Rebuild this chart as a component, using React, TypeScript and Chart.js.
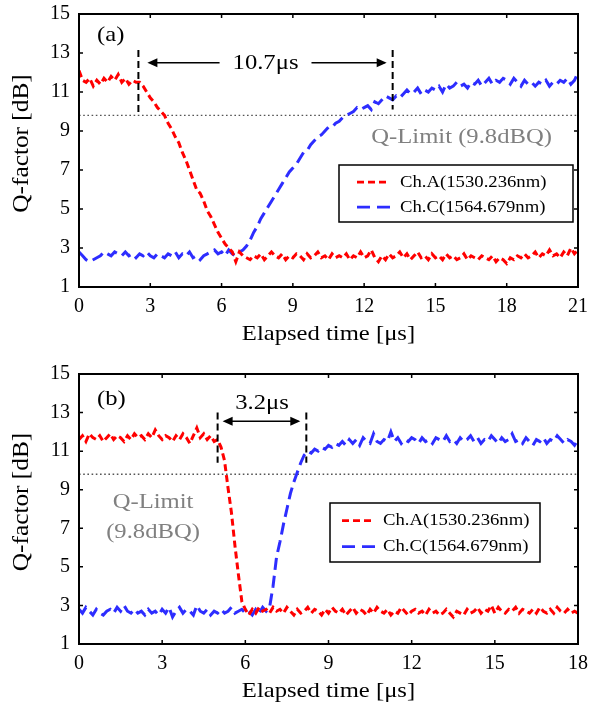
import React, { useEffect, useRef, useState } from "react";
import { Chart, registerables } from "chart.js";
Chart.register(...registerables);

const FONT = "'Liberation Serif', 'Times New Roman', Times, serif";
const RED = "rgb(255,0,0)";
const BLUE = "rgb(45,45,255)";
const GREY = "#808080";

// ---------- data ----------
const yTicks = [1, 3, 5, 7, 9, 11, 13, 15];
const qLimit = 9.8;
const legendLabels = ["Ch.A(1530.236nm)", "Ch.C(1564.679nm)"];

// panel (a): samples evenly spaced from 0 to 21 us
const tEndA = 21;
const xTicksA = [0, 3, 6, 9, 12, 15, 18, 21];
const chA_a = [
  12.1, 11.6, 11.5, 11.7, 11.3, 11.6, 11.4, 11.7, 11.5, 11.8, 11.6, 11.9, 11.5, 11.7, 11.4, 11.6, 11.5, 11.5, 11.3, 11.0,
  10.7, 10.5, 10.2, 10.0, 9.8, 9.4, 9.1, 8.7, 8.4, 7.9, 7.5, 7.0, 6.5, 6.0, 5.8, 5.4, 4.9, 4.6, 4.2, 3.8,
  3.5, 3.2, 3.0, 2.8, 2.3, 2.8, 2.6, 2.5, 2.4, 2.6, 2.5, 2.7, 2.4, 2.6, 2.8, 2.6, 2.5, 2.7, 2.4, 2.6,
  2.5, 2.7, 2.6, 2.4, 2.7, 2.5, 2.6, 2.8, 2.5, 2.6, 2.4, 2.7, 2.5, 2.6, 2.5, 2.7, 2.4, 2.6, 2.5, 2.8,
  2.5, 2.6, 2.9, 2.5, 2.3, 2.6, 2.4, 2.7, 2.5, 2.6, 2.8, 2.5, 2.7, 2.4, 2.6, 2.8, 2.5, 2.6, 2.4, 2.7,
  2.5, 2.6, 2.4, 2.7, 2.5, 2.6, 2.4, 2.5, 2.7, 2.4, 2.6, 2.5, 2.4, 2.6, 2.5, 2.4, 2.6, 2.3, 2.5, 2.4,
  2.2, 2.5, 2.4, 2.6, 2.5, 2.7, 2.5, 2.6, 2.8, 2.5, 2.7, 2.6, 2.9, 2.6, 2.7, 2.5, 2.8, 2.6, 3.0, 2.7,
  2.9,
];
const chC_a = [
  2.8, 2.6, 2.4, 2.3, 2.4, 2.5, 2.6, 2.8, 2.7, 2.6, 2.8, 2.7, 2.6, 2.8, 2.6, 2.7, 2.5, 2.7, 2.6, 2.8,
  2.6, 2.5, 2.7, 2.6, 2.5, 2.7, 2.6, 2.8, 2.5, 2.7, 2.6, 2.8, 2.5, 2.6, 2.4, 2.6, 2.7, 2.8, 2.9, 2.7,
  2.8, 2.6, 2.9, 2.7, 2.6, 2.8, 2.9, 3.1, 3.4, 3.8, 4.1, 4.5, 4.8, 5.1, 5.4, 5.7, 6.0, 6.3, 6.6, 6.9,
  7.1, 7.3, 7.6, 7.9, 8.0, 8.3, 8.5, 8.7, 8.8, 9.0, 9.2, 9.2, 9.4, 9.5, 9.7, 9.8, 9.9, 10.0, 10.2, 10.1,
  10.2, 10.3, 10.1, 10.5, 10.4, 10.6, 10.8, 10.7, 10.6, 10.8, 10.7, 10.9, 11.1, 10.9, 11.0, 11.2, 10.9, 11.1, 11.0, 11.2,
  11.1, 11.3, 11.0, 11.4, 11.2, 11.3, 11.5, 11.3, 11.4, 11.2, 11.5, 11.4, 11.6, 11.3, 11.5, 11.7, 11.4, 11.6, 11.5, 11.7,
  11.6, 11.4, 11.7, 11.5, 11.3, 11.6, 11.4, 11.5, 11.3, 11.5, 11.4, 11.6, 11.3, 11.5, 11.4, 11.6, 11.5, 11.7, 11.4, 11.6,
  12.0,
];
const markersA = [2.5, 13.2];
const markerTopA = [13.15, 13.15];
const markerBottomA = [9.8, 10.1];
const spanLabelA = "10.7\u03bcs";

// panel (b): samples evenly spaced from 0 to 18 us
const tEndB = 18;
const xTicksB = [0, 3, 6, 9, 12, 15, 18];
const chA_b = [
  11.6, 11.8, 11.5, 11.9, 11.7, 11.6, 11.8, 11.5, 11.7, 11.9, 11.6, 11.8, 11.7, 11.5, 11.8, 11.6, 11.9, 11.7, 11.8, 11.6,
  11.9, 11.7, 12.1, 11.8, 11.6, 11.8, 11.7, 11.5, 11.8, 11.6, 11.9, 11.7, 11.4, 11.8, 12.2, 11.7, 11.9, 11.6, 11.8, 11.5,
  11.6, 11.2, 10.5, 9.1, 7.8, 6.1, 4.6, 3.2, 2.8, 2.5, 2.8, 2.6, 2.9, 2.7, 2.8, 2.6, 2.9, 2.7, 2.8, 2.6,
  2.9, 2.7, 2.5, 2.8, 2.6, 2.7, 2.9, 2.6, 2.8, 2.7, 2.5, 2.8, 2.6, 2.9, 2.7, 2.6, 2.8, 2.5, 2.7, 2.9,
  2.6, 2.8, 2.7, 2.5, 2.8, 2.6, 2.9, 2.7, 2.6, 2.8, 2.5, 2.7, 2.6, 2.9, 2.7, 2.5, 2.7, 2.8, 2.6, 2.7,
  2.5, 2.8, 2.6, 2.7, 2.5, 2.6, 2.8, 2.6, 2.4, 2.7, 2.6, 2.5, 2.8, 2.6, 2.7, 2.9, 2.6, 2.8, 2.7, 3.0,
  2.6, 2.9, 2.7, 2.6, 2.8, 2.7, 2.9, 2.6, 2.8, 2.7, 2.6, 2.8, 2.6, 2.9, 2.7, 2.6, 2.8, 2.6, 2.9, 2.7,
  2.6, 2.8, 2.6, 2.7, 2.6,
];
const chC_b = [
  2.8, 2.6, 2.9, 2.7, 2.5, 2.8, 2.6, 2.5, 2.7, 2.8, 2.6, 2.9, 2.7, 3.0, 2.7, 2.6, 2.8, 2.6, 2.7, 2.5,
  2.8, 2.6, 2.7, 2.5, 2.8, 2.6, 2.9, 2.4, 2.7, 2.9, 2.6, 2.8, 2.7, 2.5, 3.0, 2.7, 2.6, 2.8, 2.5, 2.7,
  2.6, 2.8, 2.6, 2.7, 2.9, 2.6, 2.7, 2.8, 2.6, 2.7, 2.5, 2.8, 2.6, 2.9, 2.7, 2.9, 4.0, 5.5, 6.3, 7.2,
  8.0, 8.8, 9.4, 9.9, 10.4, 10.8, 11.0, 10.9, 11.1, 11.0, 11.2, 11.1, 11.3, 11.2, 11.4, 11.3, 11.5, 11.3, 11.6, 11.4,
  11.6, 11.3, 11.7, 11.5, 11.4, 11.9, 11.5, 11.4, 11.6, 11.5, 12.0, 11.5, 11.7, 11.4, 11.6, 11.5, 11.7, 11.6, 11.4, 11.7,
  11.5, 11.6, 11.4, 11.7, 11.6, 11.5, 11.8, 11.5, 11.6, 11.4, 11.7, 11.5, 11.6, 11.8, 11.5, 11.7, 11.4, 11.6, 11.5, 11.8,
  11.6, 11.4, 11.7, 11.5, 11.6, 11.9, 11.5, 11.6, 11.4, 11.7, 11.5, 11.3, 11.6, 11.5, 11.7, 11.4, 11.6, 11.5, 11.8, 11.6,
  11.4, 11.6, 11.5, 11.3, 11.6,
];
const markersB = [5.0, 8.2];
const markerTopB = [13.0, 13.0];
const markerBottomB = [10.4, 10.4];
const spanLabelB = "3.2\u03bcs";

// ---------- drawing helpers ----------
function drawText(
  ctx: CanvasRenderingContext2D,
  text: string,
  x: number,
  y: number,
  size: number,
  color: string,
  align: "left" | "center" | "right" = "center",
  sx = 1.12
) {
  ctx.save();
  ctx.font = `${size}px ${FONT}`;
  ctx.fillStyle = color;
  ctx.textBaseline = "middle";
  ctx.textAlign = "left";
  const w = ctx.measureText(text).width * sx;
  const left = align === "center" ? x - w / 2 : align === "right" ? x - w : x;
  ctx.translate(left, y);
  ctx.scale(sx, 1);
  ctx.fillText(text, 0, 0);
  ctx.restore();
  return w;
}

function arrowHead(ctx: CanvasRenderingContext2D, x: number, y: number, dir: number) {
  ctx.beginPath();
  ctx.moveTo(x, y);
  ctx.lineTo(x - dir * 10, y - 4.5);
  ctx.lineTo(x - dir * 10, y + 4.5);
  ctx.closePath();
  ctx.fill();
}

type Spec = {
  tag: string;
  tEnd: number;
  xTicks: number[];
  chA: number[];
  chC: number[];
  markers: number[];
  markerTop: number[];
  markerBottom: number[];
  spanLabel: string;
  arrowY: number;
  labelY: number;
  inline: boolean;
  qLines: string[];
  qX: number;
  qY: number[];
  legend: { right: number; top: number; w: number; h: number; sx: number; tx: number };
  height: number;
  areaTop: number;
  areaBottom: number;
  tagDy: number;
};

function makeOverlay(spec: Spec) {
  return {
    id: "overlay",
    afterDraw(chart: any) {
      const ctx: CanvasRenderingContext2D = chart.ctx;
      const a = chart.chartArea;
      const xs = chart.scales.x;
      const ys = chart.scales.y;
      ctx.save();
      // frame
      ctx.strokeStyle = "#000";
      ctx.lineWidth = 2;
      ctx.strokeRect(a.left, a.top, a.right - a.left, a.bottom - a.top);
      ctx.lineWidth = 1.5;
      ctx.beginPath();
      spec.xTicks.forEach((v) => {
        const px = xs.getPixelForValue(v);
        ctx.moveTo(px, a.bottom);
        ctx.lineTo(px, a.bottom - 4);
        ctx.moveTo(px, a.top);
        ctx.lineTo(px, a.top + 4);
      });
      yTicks.forEach((v) => {
        const py = ys.getPixelForValue(v);
        ctx.moveTo(a.left, py);
        ctx.lineTo(a.left + 4, py);
        ctx.moveTo(a.right, py);
        ctx.lineTo(a.right - 4, py);
      });
      ctx.stroke();

      // marker dashed lines
      ctx.setLineDash([7, 4]);
      ctx.lineWidth = 2;
      ctx.beginPath();
      spec.markers.forEach((m, i) => {
        const px = xs.getPixelForValue(m);
        ctx.moveTo(px, ys.getPixelForValue(spec.markerTop[i]));
        ctx.lineTo(px, ys.getPixelForValue(spec.markerBottom[i]));
      });
      ctx.stroke();
      ctx.setLineDash([]);

      // span label + arrows
      const x0 = xs.getPixelForValue(spec.markers[0]);
      const x1 = xs.getPixelForValue(spec.markers[1]);
      const ay = ys.getPixelForValue(spec.arrowY);
      const mid = xs.getPixelForValue((spec.markers[0] + spec.markers[1]) / 2);
      ctx.fillStyle = "#000";
      ctx.strokeStyle = "#000";
      ctx.lineWidth = 1.5;
      if (spec.inline) {
        const w = drawText(ctx, spec.spanLabel, mid, ys.getPixelForValue(spec.labelY), 22, "#000");
        ctx.beginPath();
        ctx.moveTo(mid - w / 2 - 13, ay);
        ctx.lineTo(x0 + 12, ay);
        ctx.moveTo(mid + w / 2 + 13, ay);
        ctx.lineTo(x1 - 8, ay);
        ctx.stroke();
        arrowHead(ctx, x0 + 9, ay, -1);
        arrowHead(ctx, x1 - 6, ay, 1);
      } else {
        drawText(ctx, spec.spanLabel, mid, ys.getPixelForValue(spec.labelY), 22, "#000");
        ctx.beginPath();
        ctx.moveTo(x0 + 8, ay);
        ctx.lineTo(x1 - 8, ay);
        ctx.stroke();
        arrowHead(ctx, x0 + 5, ay, -1);
        arrowHead(ctx, x1 - 6, ay, 1);
      }

      // panel tag
      drawText(ctx, spec.tag, a.left + 18, a.top + spec.tagDy, 22, "#000", "left");

      // Q-limit label
      spec.qLines.forEach((line, i) => {
        drawText(ctx, line, xs.getPixelForValue(spec.qX), ys.getPixelForValue(spec.qY[i]), 22, GREY);
      });

      // legend
      const L = spec.legend;
      const lx = a.right - L.right;
      const ly = a.top + L.top;
      ctx.fillStyle = "#fff";
      ctx.fillRect(lx, ly, L.w, L.h);
      ctx.strokeStyle = "#000";
      ctx.lineWidth = 1.5;
      ctx.strokeRect(lx, ly, L.w, L.h);
      const rows = [
        { color: RED, dash: [7, 4], text: legendLabels[0] },
        { color: BLUE, dash: [13, 7], text: legendLabels[1] },
      ];
      rows.forEach((r, i) => {
        const ry = ly + L.h * (i === 0 ? 0.3 : 0.74);
        ctx.strokeStyle = r.color;
        ctx.lineWidth = 2.8;
        ctx.setLineDash(r.dash);
        ctx.beginPath();
        ctx.moveTo(lx + L.sx, ry);
        ctx.lineTo(lx + L.sx + 33, ry);
        ctx.stroke();
        ctx.setLineDash([]);
        drawText(ctx, r.text, lx + L.tx, ry, 17, "#000", "left", 1.1);
      });

      // axis titles
      drawText(ctx, "Elapsed time [\u03bcs]", (a.left + a.right) / 2, a.bottom + 47, 22, "#000");
      ctx.save();
      ctx.translate(22, (a.top + a.bottom) / 2 - 7);
      ctx.rotate(-Math.PI / 2);
      drawText(ctx, "Q-factor [dB]", 0, 0, 23, "#000", "center", 1.1);
      ctx.restore();

      ctx.restore();
    },
  };
}

function Panel({ spec, top, ready }: { spec: Spec; top: number; ready: boolean }) {
  const ref = useRef<HTMLCanvasElement | null>(null);
  useEffect(() => {
    if (!ref.current || !ready) return;
    const toPts = (vals: number[]) =>
      vals.map((v, i) => ({ x: (i * spec.tEnd) / (vals.length - 1), y: v }));
    const tickFont = { family: FONT, size: 20 };
    const chart = new Chart(ref.current, {
      type: "line",
      data: {
        datasets: [
          {
            label: legendLabels[0],
            data: toPts(spec.chA),
            borderColor: RED,
            borderWidth: 3,
            borderDash: [7, 4],
            pointRadius: 0,
            tension: 0,
          },
          {
            label: legendLabels[1],
            data: toPts(spec.chC),
            borderColor: BLUE,
            borderWidth: 3,
            borderDash: [12, 6],
            pointRadius: 0,
            tension: 0,
          },
          {
            label: "Q-Limit",
            data: [
              { x: 0, y: qLimit },
              { x: spec.tEnd, y: qLimit },
            ],
            borderColor: "#555",
            borderWidth: 1.4,
            borderDash: [1.6, 2.6],
            pointRadius: 0,
            tension: 0,
          },
        ],
      },
      options: {
        animation: false,
        responsive: false,
        maintainAspectRatio: false,
        events: [],
        layout: { padding: { left: 0, right: 11, top: spec.areaTop, bottom: 0 } },
        plugins: { legend: { display: false }, tooltip: { enabled: false } },
        scales: {
          x: {
            type: "linear",
            min: 0,
            max: spec.tEnd,
            grid: { display: false, drawTicks: false },
            border: { display: false },
            ticks: { font: tickFont, color: "#000", padding: 8, maxRotation: 0, autoSkip: false },
            afterBuildTicks: (s: any) => {
              s.ticks = spec.xTicks.map((v) => ({ value: v }));
            },
            afterFit: (s: any) => {
              s.height = spec.height - spec.areaBottom;
              s.paddingLeft = 0;
              s.paddingRight = 0;
            },
          },
          y: {
            type: "linear",
            min: 1,
            max: 15,
            grid: { display: false, drawTicks: false },
            border: { display: false },
            ticks: { font: tickFont, color: "#000", padding: 9, autoSkip: false },
            afterBuildTicks: (s: any) => {
              s.ticks = yTicks.map((v) => ({ value: v }));
            },
            afterFit: (s: any) => {
              s.width = 79;
              s.paddingTop = 0;
              s.paddingBottom = 0;
            },
          },
        },
      },
      plugins: [makeOverlay(spec)],
    } as any);
    return () => chart.destroy();
  }, [spec, ready]);
  return (
    <canvas
      ref={ref}
      width={589}
      height={spec.height}
      style={{ position: "absolute", left: 0, top, width: 589, height: spec.height, display: "block" }}
    />
  );
}

const specA: Spec = {
  tag: "(a)",
  tEnd: tEndA,
  xTicks: xTicksA,
  chA: chA_a,
  chC: chC_a,
  markers: markersA,
  markerTop: markerTopA,
  markerBottom: markerBottomA,
  spanLabel: spanLabelA,
  arrowY: 12.5,
  labelY: 12.5,
  inline: true,
  qLines: ["Q-Limit (9.8dBQ)"],
  qX: 16.1,
  qY: [8.7],
  legend: { right: 239, top: 151, w: 234, h: 57, sx: 18, tx: 61 },
  height: 350,
  areaTop: 14,
  areaBottom: 287,
  tagDy: 21,
};

const specB: Spec = {
  tag: "(b)",
  tEnd: tEndB,
  xTicks: xTicksB,
  chA: chA_b,
  chC: chC_b,
  markers: markersB,
  markerTop: markerTopB,
  markerBottom: markerBottomB,
  spanLabel: spanLabelB,
  arrowY: 12.55,
  labelY: 13.5,
  inline: false,
  qLines: ["Q-Limit", "(9.8dBQ)"],
  qX: 2.67,
  qY: [8.34, 6.78],
  legend: { right: 248, top: 129, w: 210, h: 59, sx: 12, tx: 53 },
  height: 352,
  areaTop: 24,
  areaBottom: 294,
  tagDy: 25,
};

export default function App() {
  const [ready, setReady] = useState(false);
  useEffect(() => {
    let done = false;
    const finish = () => {
      if (!done) {
        done = true;
        setReady(true);
      }
    };
    const fonts: any = (document as any).fonts;
    if (fonts && fonts.load) {
      Promise.all([
        fonts.load("20px 'Liberation Serif'"),
        fonts.load("20px 'Liberation Serif'", "\u03bc"),
      ]).then(finish, finish);
      setTimeout(finish, 1500);
    } else {
      finish();
    }
  }, []);
  return (
    <div style={{ position: "absolute", left: 0, top: 0, width: 589, height: 702, background: "#fff", overflow: "hidden" }}>
      <Panel spec={specA} top={0} ready={ready} />
      <Panel spec={specB} top={350} ready={ready} />
    </div>
  );
}
